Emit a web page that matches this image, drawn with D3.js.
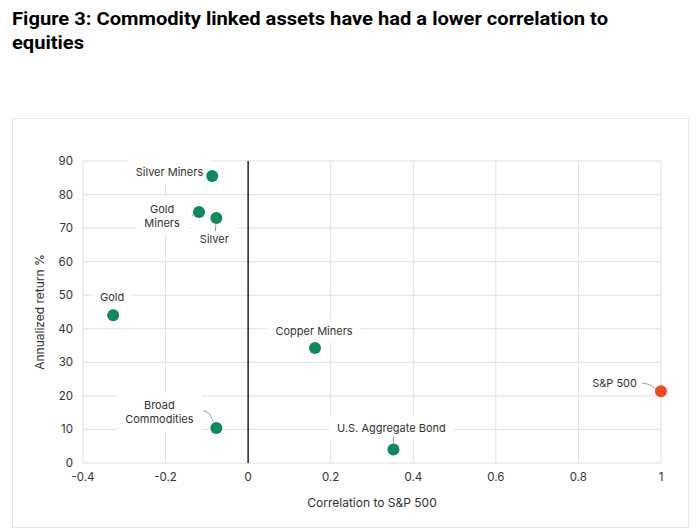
<!DOCTYPE html>
<html>
<head>
<meta charset="utf-8">
<script src="https://cdn.jsdelivr.net/npm/d3@7"></script>
<style>
  body { margin: 0; background: #fff; }
  svg text { font-family: Inter, "Open Sans", sans-serif; }
</style>
</head>
<body>
<svg id="chart" width="700" height="532"></svg>
<script>
// values
const assets = ["Silver Miners", "Gold Miners", "Silver", "Gold", "Copper Miners", "Broad Commodities", "U.S. Aggregate Bond", "S&P 500"];
const correlation = [-0.087, -0.119, -0.077, -0.327, 0.162, -0.077, 0.352, 1.0];
const annualReturn = [85.5, 74.8, 73.0, 44.0, 34.3, 10.4, 4.0, 21.4];
const xTicks = [-0.4, -0.2, 0, 0.2, 0.4, 0.6, 0.8, 1];
const yTicks = [0, 10, 20, 30, 40, 50, 60, 70, 80, 90];

// label placement, pixels from the dot (layout only)
const labelLayout = {
  "Silver Miners":       { lines: ["Silver Miners"], dx: -9, dy: -4, anchor: "end" },
  "Gold Miners":         { lines: ["Gold", "Miners"], dx: -37, dy: 4, leader: [[-3, 1], [-7, 4]] },
  "Silver":              { lines: ["Silver"], dx: -2, dy: 21, leader: [[0, 0], [-1, 13]] },
  "Gold":                { lines: ["Gold"], dx: -1, dy: -18 },
  "Copper Miners":       { lines: ["Copper Miners"], dx: -1, dy: -17 },
  "Broad Commodities":   { lines: ["Broad", "Commodities"], dx: -57, dy: -16, leader: [[-3, -6], [-8, -17], [-13, -17]] },
  "U.S. Aggregate Bond": { lines: ["U.S. Aggregate Bond"], dx: -2, dy: -21, leader: [[0, -7], [0, -13]] },
  "S&P 500":             { lines: ["S&P 500"], dx: -24, dy: -8, anchor: "end", leader: [[-5, -2], [-11, -7], [-19, -8]] }
};

const green = "#0b8a5d", red = "#f04a1f";

const svg = d3.select("#chart");

// title
const title = svg.append("g");
title.append("text").attr("x", 12).attr("y", 25)
  .style("font-family", "Roboto, sans-serif").attr("font-weight", 700).attr("font-size", 19)
  .attr("textLength", 596).attr("lengthAdjust", "spacingAndGlyphs")
  .text("Figure 3: Commodity linked assets have had a lower correlation to");
title.append("text").attr("x", 12).attr("y", 49)
  .style("font-family", "Roboto, sans-serif").attr("font-weight", 700).attr("font-size", 19)
  .attr("textLength", 72).attr("lengthAdjust", "spacingAndGlyphs")
  .text("equities");

// frame
svg.append("rect").attr("x", 12.5).attr("y", 118.5).attr("width", 676).attr("height", 409)
  .attr("fill", "none").attr("stroke", "#e6e6e6");

const x = d3.scaleLinear().domain([-0.4, 1]).range([83, 661]);
const y = d3.scaleLinear().domain([0, 90]).range([463, 161]);

// grid
svg.append("g").selectAll("line").data(yTicks).join("line")
  .attr("x1", x(-0.4)).attr("x2", x(1)).attr("y1", d => y(d)).attr("y2", d => y(d))
  .attr("stroke", "#e0e0e0").attr("stroke-width", 1);
svg.append("g").selectAll("line").data(xTicks.filter(d => d !== 0)).join("line")
  .attr("x1", d => x(d)).attr("x2", d => x(d)).attr("y1", y(0)).attr("y2", y(90))
  .attr("stroke", "#e0e0e0").attr("stroke-width", 1);

// tick labels
svg.append("g").selectAll("text").data(yTicks).join("text")
  .attr("x", 73).attr("y", d => y(d)).attr("dy", "0.35em").attr("text-anchor", "end")
  .attr("font-size", 11.5).attr("fill", "#333").text(d => d);
svg.append("g").selectAll("text").data(xTicks).join("text")
  .attr("x", d => x(d)).attr("y", 481).attr("text-anchor", "middle")
  .attr("font-size", 11.5).attr("fill", "#333").text(d => String(d));

// axis titles
svg.append("text").attr("transform", "translate(40,312) rotate(-90)")
  .attr("dy", "0.35em").attr("text-anchor", "middle").attr("font-size", 12).attr("fill", "#333")
  .text("Annualized return %");
svg.append("text").attr("x", 372).attr("y", 507).attr("text-anchor", "middle")
  .attr("font-size", 12).attr("fill", "#333").text("Correlation to S&P 500");

// labels with white boxes that break the grid
const lineH = 13.5;
const labels = svg.append("g");
assets.forEach((name, i) => {
  const L = labelLayout[name];
  const px = x(correlation[i]), py = y(annualReturn[i]);
  const g = labels.append("g").attr("transform", `translate(${px + L.dx},${py + L.dy})`);
  const n = L.lines.length;
  const t = g.append("text").attr("text-anchor", L.anchor || "middle")
    .attr("font-size", 11).attr("fill", "#333");
  L.lines.forEach((s, k) => {
    t.append("tspan").attr("x", 0).attr("y", (k - (n - 1) / 2) * lineH).attr("dy", "0.35em").text(s);
  });
  const bb = t.node().getBBox();
  g.insert("rect", "text")
    .attr("x", bb.x - 8).attr("y", bb.y - 5).attr("width", bb.width + 16).attr("height", bb.height + 10)
    .attr("fill", "#fff");
  if (L.leader) {
    labels.append("path")
      .attr("d", d3.line().curve(d3.curveBasis)(L.leader.map(p => [px + p[0], py + p[1]])))
      .attr("fill", "none").attr("stroke", "#999").attr("stroke-width", 1);
  }
});

// zero line
svg.append("line").attr("x1", x(0)).attr("x2", x(0)).attr("y1", y(0)).attr("y2", y(90))
  .attr("stroke", "#222").attr("stroke-width", 1.5);

// dots
svg.append("g").selectAll("circle").data(assets).join("circle")
  .attr("cx", (d, i) => x(correlation[i])).attr("cy", (d, i) => y(annualReturn[i]))
  .attr("r", 6).attr("fill", d => d === "S&P 500" ? red : green);
</script>
</body>
</html>
